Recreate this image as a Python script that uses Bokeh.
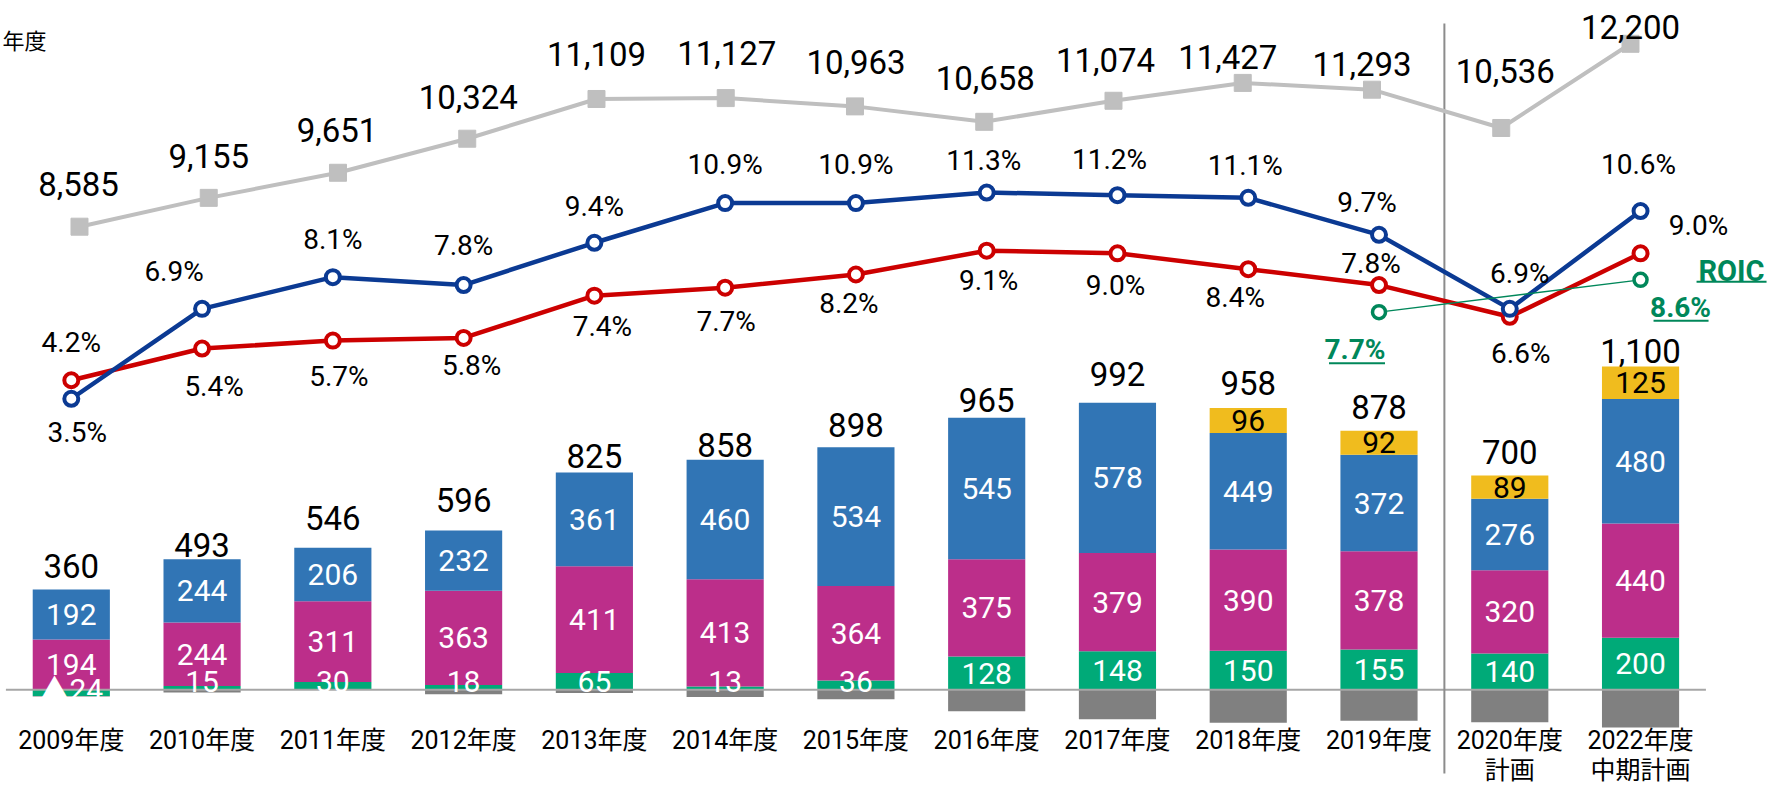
from bokeh.plotting import figure
from bokeh.models import ColumnDataSource, Range1d, Label
from bokeh.core.properties import value
from bokeh.embed import file_html
from bokeh.resources import INLINE

# ---------------- data ----------------
years = ["2009年度", "2010年度", "2011年度", "2012年度", "2013年度", "2014年度", "2015年度",
         "2016年度", "2017年度", "2018年度", "2019年度", "2020年度", "2022年度"]
plan_notes = ["", "", "", "", "", "", "", "", "", "", "", "計画", "中期計画"]

seg_green = [-24, 15, 30, 18, 65, 13, 36, 128, 148, 150, 155, 140, 200]
seg_magenta = [194, 244, 311, 363, 411, 413, 364, 375, 379, 390, 378, 320, 440]
seg_blue = [192, 244, 206, 232, 361, 460, 534, 545, 578, 449, 372, 276, 480]
seg_yellow = [0, 0, 0, 0, 0, 0, 0, 0, 0, 96, 92, 89, 125]
seg_gray = [-2, -10, -1, -17, -12, -28, -36, -83, -113, -127, -119, -125, -145]
totals = [360, 493, 546, 596, 825, 858, 898, 965, 992, 958, 878, 700, 1100]

sales = [8585, 9155, 9651, 10324, 11109, 11127, 10963, 10658, 11074, 11427, 11293, 10536, 12200]
rate_blue = [3.5, 6.9, 8.1, 7.8, 9.4, 10.9, 10.9, 11.3, 11.2, 11.1, 9.7, 6.9, 10.6]
rate_red = [4.2, 5.4, 5.7, 5.8, 7.4, 7.7, 8.2, 9.1, 9.0, 8.4, 7.8, 6.6, 9.0]
roic_years = ["2019年度", "2022年度"]
roic = [7.7, 8.6]

# ---------------- label placement (screen px nudges) ----------------
total_gap = [14, 4, 20, 21, 6, 5, 12, 8, 19, 15, 14, 14, 5]
sales_dx = [-1, 0, -1, 1, 0, 1, 1, 1, -8, -15, -10, 4, 0]
sales_dy = [-43, -42, -43, -42, -45, -45, -44, -44, -41, -26, -26, -57, -17]
blue_dx = [6, -28, 0, 0, 0, 0, 0, -3, -8, -3, -12, 10, -2]
blue_dy = [34, -37, -38, -40, -36, -39, -39, -32, -36, -32, -32, -35, -47]
red_dx = [0, 12, 6, 8, 8, 1, -7, 2, -2, -13, -8, 11, 58]
red_dy = [-38, 38, 36, 28, 31, 34, 29, 30, 32, 28, -22, 37, -28]

# ---------------- style ----------------
C_GREEN = "#00AA78"
C_MAG = "#BC2E8A"
C_BLUE = "#3175B5"
C_YEL = "#F0BC1E"
C_GRAY = "#808080"
C_SALES = "#BFBFBF"
C_LBLUE = "#0B3A93"
C_LRED = "#CC0000"
C_ROIC = "#00875A"
NUM = "Roboto, 'Noto Sans CJK JP', sans-serif"
CJK = "Roboto, 'Noto Sans CJK JP', sans-serif"

W, H = 1773, 786
n = len(years)
idx = list(range(n))

x_main = Range1d(-0.5414, 13.0167)
y_bar = Range1d(-372.4, 2654.2)
x_sales = Range1d(-0.6112, 13.1064)
y_sales = Range1d(-2479.3, 13055.8)
y_pct = Range1d(-11.165, 18.563)
y_roic = Range1d(-5.475, 16.358)


def px_x(px, rng):
    return px * (rng.end - rng.start) / W


def px_y(px, rng):
    return px * (rng.end - rng.start) / H


p = figure(width=W, height=H, x_range=x_main, y_range=y_bar,
           output_backend="svg", toolbar_location=None,
           x_axis_location=None, y_axis_location=None, min_border=0)
p.outline_line_color = None
p.background_fill_color = "white"
p.border_fill_color = "white"
p.xgrid.grid_line_color = None
p.ygrid.grid_line_color = None
p.extra_x_ranges = {"sx": x_sales}
p.extra_y_ranges = {"sales": y_sales, "pct": y_pct, "roic": y_roic}

# ---------------- stacked bars ----------------
g_bot = [min(g, 0) for g in seg_green]
g_top = [max(g, 0) for g in seg_green]
m_top = [a + b for a, b in zip(g_top, seg_magenta)]
b_top = [a + b for a, b in zip(m_top, seg_blue)]
y_top = [a + b for a, b in zip(b_top, seg_yellow)]
gr_bot = [a + b for a, b in zip(g_bot, seg_gray)]

BW = 0.59
p.vbar(x=idx, width=BW, bottom=g_bot, top=g_top, fill_color=C_GREEN, line_color=None)
p.vbar(x=idx, width=BW, bottom=gr_bot, top=g_bot, fill_color=C_GRAY, line_color=None)
p.vbar(x=idx, width=BW, bottom=g_top, top=m_top, fill_color=C_MAG, line_color=None)
p.vbar(x=idx, width=BW, bottom=m_top, top=b_top, fill_color=C_BLUE, line_color=None)
yi = [i for i in idx if seg_yellow[i] > 0]
p.vbar(x=yi, width=BW, bottom=[b_top[i] for i in yi], top=[y_top[i] for i in yi],
       fill_color=C_YEL, line_color=None)

# baseline
p.segment(x0=[-0.5], x1=[n - 0.5], y0=[0], y1=[0], line_color="#A6A6A6", line_width=2)

# separator between results and plans
sep = years.index("2020年度") - 0.5
p.segment(x0=[sep], x1=[sep], y0=[y_bar.end - px_y(23, y_bar)], y1=[y_bar.end - px_y(773, y_bar)],
          line_color="#8C8C8C", line_width=2)

# segment labels
seg_font = dict(text_font=value(NUM), text_font_size="30px", text_align="center",
                text_baseline="middle")
gl_y = [max(g / 2, 30) if g > 0 else 0 for g in seg_green]
gl_t = [str(g) if g >= 0 else "▲" + str(-g) for g in seg_green]
p.text(x=idx, y=gl_y, text=gl_t, text_color="white", **seg_font)
p.text(x=idx, y=[(a + b) / 2 for a, b in zip(g_top, m_top)], text=[str(v) for v in seg_magenta],
       text_color="white", **seg_font)
p.text(x=idx, y=[(a + b) / 2 for a, b in zip(m_top, b_top)], text=[str(v) for v in seg_blue],
       text_color="white", **seg_font)
p.text(x=yi, y=[(b_top[i] + y_top[i]) / 2 for i in yi], text=[str(seg_yellow[i]) for i in yi],
       text_color="black", **seg_font)

# totals
tsrc = ColumnDataSource(dict(x=idx, y=y_top, t=[f"{v:,}" for v in totals],
                             yo=[-(g + 10) for g in total_gap]))
p.text(x="x", y="y", text="t", y_offset="yo", source=tsrc, text_color="black",
       text_font=value(NUM), text_font_size="33px", text_align="center",
       text_baseline="alphabetic")

# category labels
p.text(x=idx, y=[0] * n, text=years, y_offset=51, text_font=value(CJK), text_font_size="25px",
       text_align="center", text_baseline="middle", text_color="black")
p.text(x=idx, y=[0] * n, text=plan_notes, y_offset=81, text_font=value(CJK), text_font_size="25px",
       text_align="center", text_baseline="middle", text_color="black")

# ---------------- sales line ----------------
p.line(idx, sales, x_range_name="sx", y_range_name="sales", line_color=C_SALES, line_width=4)
p.scatter(idx, sales, x_range_name="sx", y_range_name="sales", marker="square", size=17,
          fill_color=C_SALES, line_color=C_SALES)
ssrc = ColumnDataSource(dict(x=idx, y=sales, t=[f"{v:,}" for v in sales], xo=sales_dx, yo=sales_dy))
p.text(x="x", y="y", text="t", x_offset="xo", y_offset="yo", source=ssrc,
       x_range_name="sx", y_range_name="sales", text_font=value(NUM), text_font_size="33px",
       text_align="center", text_baseline="middle", text_color="black")

# ---------------- rate lines ----------------
for vals, col, dxs, dys in ((rate_red, C_LRED, red_dx, red_dy), (rate_blue, C_LBLUE, blue_dx, blue_dy)):
    p.line(idx, vals, y_range_name="pct", line_color=col, line_width=4.5)
    p.scatter(idx, vals, y_range_name="pct", marker="circle", size=14, fill_color="white",
              line_color=col, line_width=4)
    src = ColumnDataSource(dict(x=idx, y=vals, t=[f"{v:.1f}%" for v in vals], xo=dxs, yo=dys))
    p.text(x="x", y="y", text="t", x_offset="xo", y_offset="yo", source=src, y_range_name="pct",
           text_font=value(NUM), text_font_size="28px", text_align="center",
           text_baseline="middle", text_color="black")

# ---------------- ROIC ----------------
ridx = [years.index(y) for y in roic_years]
p.line(ridx, roic, y_range_name="roic", line_color=C_ROIC, line_width=1.3)
p.scatter(ridx, roic, y_range_name="roic", marker="circle", size=13, fill_color="white",
          line_color=C_ROIC, line_width=3.5)
roic_lab_dx = [-24, 40]
roic_lab_dy = [37, 28]
rsrc = ColumnDataSource(dict(x=ridx, y=roic, t=[f"{v:.1f}%" for v in roic],
                             xo=roic_lab_dx, yo=roic_lab_dy))
p.text(x="x", y="y", text="t", x_offset="xo", y_offset="yo", source=rsrc, y_range_name="roic",
       text_font=value(NUM), text_font_size="28px", text_font_style="bold",
       text_align="center", text_baseline="middle", text_color=C_ROIC)
p.text(x=[ridx[-1]], y=[roic[-1]], text=["ROIC"], x_offset=91, y_offset=-9, y_range_name="roic",
       text_font=value(NUM), text_font_size="29px", text_font_style="bold",
       text_align="center", text_baseline="middle", text_color=C_ROIC)

# underlines (screen-pixel extents relative to each ROIC point)
ul = [(ridx[0], roic[0], -50, 6, 51), (ridx[1], roic[1], 13, 68, 41), (ridx[1], roic[1], 56, 126, 2)]
p.segment(x0=[a + px_x(d0, x_main) for a, v, d0, d1, dv in ul],
          x1=[a + px_x(d1, x_main) for a, v, d0, d1, dv in ul],
          y0=[v - px_y(dv, y_roic) for a, v, d0, d1, dv in ul],
          y1=[v - px_y(dv, y_roic) for a, v, d0, d1, dv in ul],
          y_range_name="roic", line_color=C_ROIC, line_width=2)

# top-left unit note
p.add_layout(Label(x=2, y=H - 38.5, x_units="screen", y_units="screen", text="年度",
                   text_align="left", text_baseline="middle", text_font="Noto Sans CJK JP",
                   text_font_size="22px", text_color="black"))

open("out.html", "w").write(file_html(p, INLINE))
